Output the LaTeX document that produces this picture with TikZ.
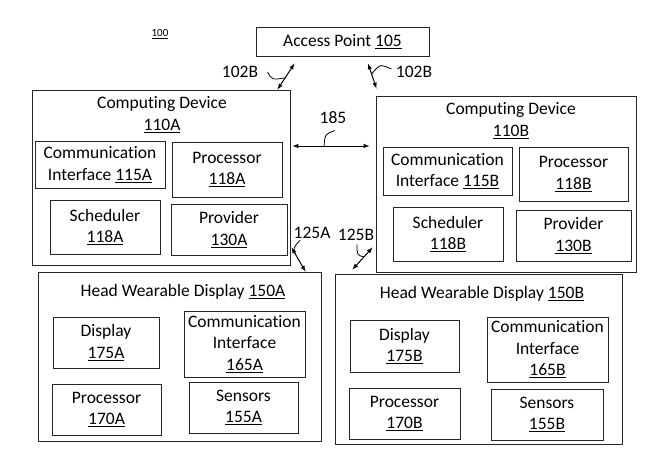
\documentclass[tikz,border=0pt]{standalone}
\usepackage{fontspec}
\setmainfont{Carlito}[Ligatures=NoCommon]
\usetikzlibrary{shapes,arrows,positioning,calc}

\begin{document}
\begin{tikzpicture}[x=1pt,y=-1pt,
    every node/.style={font=\fontsize{17.5}{21.5}\selectfont},
    box/.style={draw=black!85, line width=1pt, inner sep=1pt, align=center},
    link/.style={<->, >=latex, line width=1pt},
    hook/.style={line width=0.8pt}]
  \useasboundingbox (0,0) rectangle (670,475);

  % access point
  \node[font=\fontsize{11}{13}\selectfont] (fig100) at (160,34) {\underline{100}};
  \node[box, minimum width=173pt, minimum height=29pt] (ap) at (342.5,41.5) {Access Point \underline{105}};

  % computing device A
  \node[box, minimum width=258pt, minimum height=175pt] (cd110a) at (161,177.5) {};
  \node[align=center] (cd110a-title) at (162,114.5) {Computing Device\\\underline{110A}};
  \node[box, minimum width=130pt, minimum height=47pt] (ci115a) at (100,164.5) {Communication\\Interface \underline{115A}};
  \node[box, minimum width=110pt, minimum height=55pt] (pr118a) at (227,169.5) {Processor\\\underline{118A}};
  \node[box, minimum width=110pt, minimum height=54pt] (sc118a) at (105,227) {Scheduler\\\underline{118A}};
  \node[box, minimum width=116pt, minimum height=51pt] (pv130a) at (229,229.5) {Provider\\\underline{130A}};

  % computing device B
  \node[box, minimum width=260pt, minimum height=176pt] (cd110b) at (506,184) {};
  \node[align=center] (cd110b-title) at (511,120.5) {Computing Device\\\underline{110B}};
  \node[box, minimum width=129pt, minimum height=48pt] (ci115b) at (447.5,171) {Communication\\Interface \underline{115B}};
  \node[box, minimum width=109pt, minimum height=54pt] (pr118b) at (573.5,174) {Processor\\\underline{118B}};
  \node[box, minimum width=110pt, minimum height=54pt] (sc118b) at (448,234) {Scheduler\\\underline{118B}};
  \node[box, minimum width=115pt, minimum height=51pt] (pv130b) at (573.5,235.5) {Provider\\\underline{130B}};

  % head wearable display A
  \node[box, minimum width=283pt, minimum height=169pt] (hwd150a) at (179.5,356.5) {};
  \node (hwd150a-title) at (183,292) {Head Wearable Display \underline{150A}};
  \node[box, minimum width=106pt, minimum height=51pt] (dp175a) at (106,342.5) {Display\\\underline{175A}};
  \node[box, minimum width=121pt, minimum height=66pt] (ci165a) at (244.5,344) {Communication\\Interface\\\underline{165A}};
  \node[box, minimum width=109pt, minimum height=51pt] (pr170a) at (106.5,409.5) {Processor\\\underline{170A}};
  \node[box, minimum width=109pt, minimum height=51pt] (sn155a) at (243.5,407.5) {Sensors\\\underline{155A}};

  % head wearable display B
  \node[box, minimum width=287pt, minimum height=170pt] (hwd150b) at (478.5,359) {};
  \node (hwd150b-title) at (482,294) {Head Wearable Display \underline{150B}};
  \node[box, minimum width=109pt, minimum height=52pt] (dp175b) at (404.5,346) {Display\\\underline{175B}};
  \node[box, minimum width=121pt, minimum height=65pt] (ci165b) at (547.5,349.5) {Communication\\Interface\\\underline{165B}};
  \node[box, minimum width=111pt, minimum height=51pt] (pr170b) at (404.5,413.5) {Processor\\\underline{170B}};
  \node[box, minimum width=112pt, minimum height=51pt] (sn155b) at (547,414.5) {Sensors\\\underline{155B}};

  % links
  \draw[link] ($(ap.south west)+(39,7)$) -- coordinate[pos=0.55] (m102a) ($(cd110a.north east)+(-13,0)$);
  \draw[link] ($(ap.south)+(25.5,7)$) -- coordinate[pos=0.42] (m102b) ($(cd110b.north west)+(1,-7)$);
  \draw[link] ($(cd110a.east)+(2,-31.5)$) -- coordinate[pos=0.41] (m185) ($(cd110b.west)+(-6,-38)$);
  \draw[link] ($(cd110a.south east)+(1,-18)$) -- coordinate[pos=0.32] (m125a) ($(hwd150a.north east)+(-16,0)$);
  \draw[link] ($(cd110b.south west)+(-3,-25)$) -- coordinate[pos=0.43] (m125b) ($(hwd150b.north west)+(18,-4)$);

  % link labels
  \node (l102a) at (240,72) {102B};
  \node (l102b) at (414,72) {102B};
  \node (l185) at (333,118) {185};
  \node (l125a) at (312,233) {125A};
  \node (l125b) at (356,235) {125B};
  \draw[hook] ($(l102a.east)+(6,0)$) .. controls (272,80) .. (m102a);
  \draw[hook] ($(l102b.west)+(-1,-3)$) .. controls (380,64) .. (m102b);
  \draw[hook] (m185) .. controls (325,134) .. ($(l185.south)+(2,3)$);
  \draw[hook] ($(l125a.south)+(-12,-2)$) .. controls (293,248) .. (m125a);
  \draw[hook] ($(l125b.south)+(1,0)$) .. controls (357,255) .. (m125b);
\end{tikzpicture}
\end{document}
